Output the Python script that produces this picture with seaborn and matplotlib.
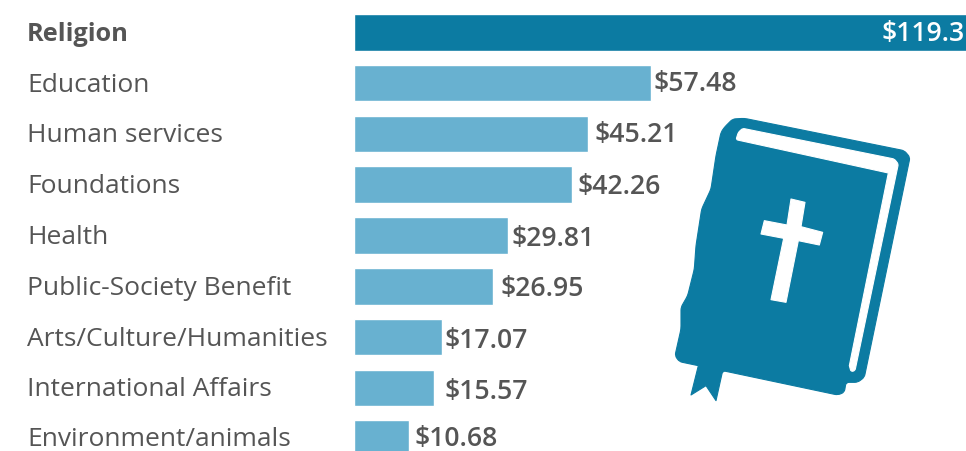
import matplotlib
matplotlib.use("Agg")
import matplotlib.pyplot as plt
import seaborn as sns
import pandas as pd
from matplotlib.patches import PathPatch
from matplotlib.path import Path
from matplotlib.transforms import Affine2D, ScaledTranslation

categories = ["Religion", "Education", "Human services", "Foundations", "Health",
              "Public-Society Benefit", "Arts/Culture/Humanities",
              "International Affairs", "Environment/animals"]
values = [119.3, 57.48, 45.21, 42.26, 29.81, 26.95, 17.07, 15.57, 10.68]
value_labels = ["$119.3", "$57.48", "$45.21", "$42.26", "$29.81",
                "$26.95", "$17.07", "$15.57", "$10.68"]
label_gaps = [-89, 3, 7, 5, 3, 7, 2, 10, 5]
label_drops = [1, 0, 0, 1, 2, 2, 3, 3, -1]
name_lifts = [2, 2, 2, 2, 2, 2, 2, 2, 3]

DARK = "#0c7ba2"
LIGHT = "#68b1d0"
TEXT = "#555555"
W, H = 966, 452
LEFT = 354

sns.set_theme(style="white")
plt.rcParams["font.family"] = ["Open Sans", "DejaVu Sans"]

fig = plt.figure(figsize=(W / 100, H / 100), dpi=100, facecolor="white")
ax = fig.add_axes([LEFT / W, 0, (W - LEFT) / W, 1])

df = pd.DataFrame({"category": categories, "value": values})
palette = {c: (DARK if c == "Religion" else LIGHT) for c in categories}
sns.barplot(data=df, y="category", x="value", hue="category", palette=palette,
            legend=False, width=0.72, saturation=1, ax=ax, orient="h")

px_per_unit = 5.167
row_step = 50.8
ax.set_xlim(0, (W - LEFT) / px_per_unit)
ax.set_ylim((H - 33.3) / row_step, -33.3 / row_step)
ax.set_xlabel("")
ax.set_ylabel("")
ax.xaxis.set_visible(False)
sns.despine(ax=ax, left=True, bottom=True)

# Category names are left-aligned in a column well to the left of the bars
ax.tick_params(axis="y", length=0, pad=(LEFT - 27) * 0.72)
ax.set_yticks(range(len(categories)))
ax.set_yticklabels(categories, ha="left", fontsize=19, color=TEXT)
ax.get_yticklabels()[0].set_fontweight("bold")
ax.get_yticklabels()[0].set_fontsize(18.3)
for tick_label, up in zip(ax.get_yticklabels(), name_lifts):
    tick_label.set_transform(tick_label.get_transform()
                             + ScaledTranslation(0, up / 100, fig.dpi_scale_trans))

for i, (v, lab, gap, drop) in enumerate(zip(values, value_labels, label_gaps, label_drops)):
    ax.annotate(lab, xy=(v, i), xytext=(gap * 0.72, -drop * 0.72), textcoords="offset points",
                ha="left", va="center", fontsize=19.2, fontweight=600,
                color="white" if i == 0 else TEXT, annotation_clip=False)


def rounded(points, radius=9, sharp=()):
    """Closed path through points with softened corners, except those listed as sharp."""
    verts, codes = [], []
    n = len(points)
    for k, (x, y) in enumerate(points):
        px, py = points[k - 1]
        nx, ny = points[(k + 1) % n]
        if k in sharp:
            verts.append((x, y))
            codes.append(Path.MOVETO if k == 0 else Path.LINETO)
            continue
        d_prev = ((x - px) ** 2 + (y - py) ** 2) ** 0.5
        d_next = ((x - nx) ** 2 + (y - ny) ** 2) ** 0.5
        a = min(radius, d_prev / 2) / d_prev
        b = min(radius, d_next / 2) / d_next
        verts += [(x + (px - x) * a, y + (py - y) * a), (x, y), (x + (nx - x) * b, y + (ny - y) * b)]
        codes += [Path.MOVETO if k == 0 else Path.LINETO, Path.CURVE3, Path.CURVE3]
    verts.append(verts[0])
    codes.append(Path.CLOSEPOLY)
    return Path(verts, codes)


# Bible icon, outlined in pixel units and placed through a flipped pixel transform
icon = Affine2D().scale(1 / 3).translate(661, 100).scale(1, -1).translate(0, H)

cover = [(190, 85), (215, 60), (250, 58), (730, 155), (747, 175), (610, 835), (590, 850),
         (555, 850), (550, 880), (530, 888), (185, 815), (165, 905), (135, 860),
         (90, 888), (112, 800), (55, 788), (42, 770), (60, 690), (60, 625),
         (80, 590), (100, 510), (105, 440), (122, 330), (150, 270), (165, 170),
         (180, 100)]
pages = [(245, 88), (700, 180), (712, 195), (582, 815), (570, 818), (565, 800),
         (682, 222), (225, 122), (232, 100)]
cross = [(390, 300), (432, 310), (420, 383), (485, 400), (475, 438), (412, 425),
         (375, 610), (330, 602), (368, 418), (300, 405), (310, 365), (378, 378)]

shapes = [(rounded(cover, sharp=(11, 12, 13, 14)), DARK),
          (rounded(pages, radius=6, sharp=(5, 6)), "white"),
          (Path(cross + cross[:1], closed=True), "white")]
for outline, colour in shapes:
    fig.add_artist(PathPatch(outline, facecolor=colour, edgecolor=colour, linewidth=0.8,
                             joinstyle="round", transform=icon))

fig.savefig("out.png", dpi=100)
